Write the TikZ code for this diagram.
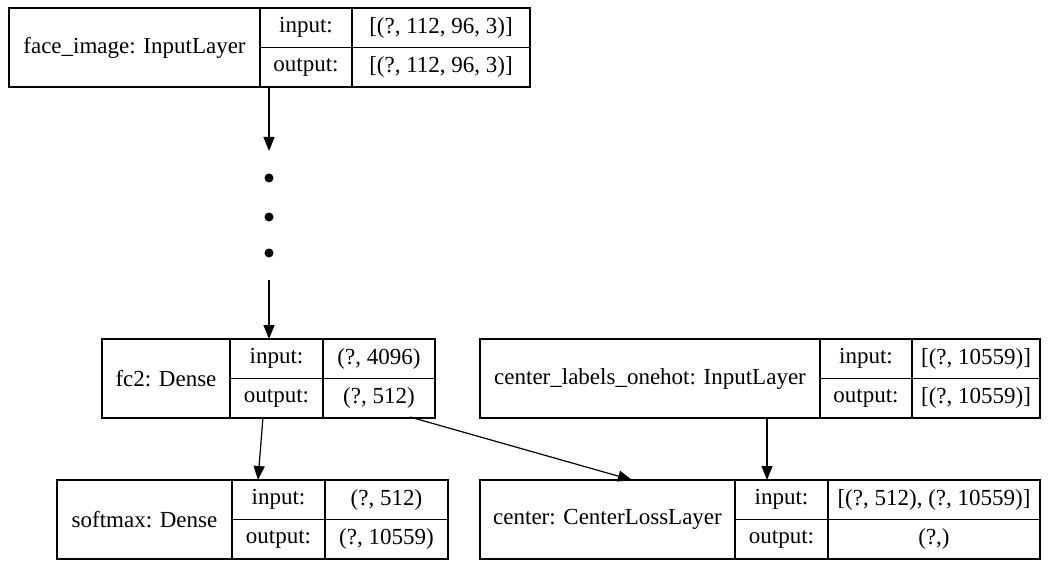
\documentclass[tikz,border=0pt]{standalone}
\usepackage{fontspec}
\setmainfont{Liberation Serif}
\usetikzlibrary{arrows.meta}

% One Keras layer record: outer frame, the name cell, and the input/output rows.
% #1 id, #2 left, #3 first divider, #4 second divider, #5 right, #6 top,
% #7 layer title, #8 input shape, #9 output shape
\newcommand\layerrecord[9]{%
  \node[recframe, anchor=north west,
        minimum width={(#5-#2)*1pt}, minimum height=79pt] (#1) at (#2,#6) {};
  \draw[cellrule] (#3,#6) -- (#3,#6+79);
  \draw[cellrule] (#4,#6) -- (#4,#6+79);
  \draw[cellrule] (#3,#6+39.5) -- (#5,#6+39.5);
  \node[celltext] (#1-title) at ({(#2+#3)/2},{#6+39.5}) {#7};
  \node[celltext] (#1-inlab) at ({(#3+#4)/2},{#6+19.75}) {input:};
  \node[celltext] (#1-outlab) at ({(#3+#4)/2},{#6+59.25}) {output:};
  \node[celltext] (#1-inval) at ({(#4+#5)/2},{#6+19.75}) {#8};
  \node[celltext] (#1-outval) at ({(#4+#5)/2},{#6+59.25}) {#9};
}

\begin{document}
\begin{tikzpicture}[x=1pt,y=-1pt,
  recframe/.style={draw, line width=1.7pt, inner sep=0pt, outer sep=0pt},
  cellrule/.style={line width=1.2pt},
  celltext/.style={inner sep=0pt, font=\fontsize{23}{27}\selectfont},
  flow/.style={line width=1.2pt, -{Triangle[length=14pt,width=11pt]}},
  ellipsisdot/.style={circle, fill, inner sep=0pt, minimum size=9pt}]
\useasboundingbox (0,0) rectangle (1048,561);
\fill[white] (0,0) rectangle (1048,561);

\layerrecord{face}{9}{260}{352}{530}{8}{face\_image: InputLayer}{[(?, 112, 96, 3)]}{[(?, 112, 96, 3)]}
\layerrecord{fctwo}{102}{230}{323}{435}{339}{fc2: Dense}{(?, 4096)}{(?, 512)}
\layerrecord{onehot}{480}{820}{912}{1040}{339}{center\_labels\_onehot: InputLayer}{[(?, 10559)]}{[(?, 10559)]}
\layerrecord{softmax}{57}{232}{325}{448}{480}{softmax: Dense}{(?, 512)}{(?, 10559)}
\layerrecord{center}{480}{735}{828}{1040}{480}{center: CenterLossLayer}{[(?, 512), (?, 10559)]}{(?,)}

% elided layers between the input and fc2
\node[ellipsisdot] (dotA) at (269,178) {};
\node[ellipsisdot] (dotB) at (269,217) {};
\node[ellipsisdot] (dotC) at (269,253) {};

% connector end points on the record edges
\coordinate (faceOut) at (269,87);
\coordinate (gapTop) at (269,151);
\coordinate (gapBottom) at (269,280);
\coordinate (fctwoIn) at (269,339);
\coordinate (fctwoOutA) at (263,417);
\coordinate (fctwoOutB) at (410,417);
\coordinate (softmaxIn) at (258,480);
\coordinate (centerInA) at (632,480);
\coordinate (onehotOut) at (767,417);
\coordinate (centerInB) at (767,480);

\draw[flow] (faceOut) -- (gapTop);
\draw[flow] (gapBottom) -- (fctwoIn);
\draw[flow] (fctwoOutA) -- (softmaxIn);
\draw[flow] (fctwoOutB) -- (centerInA);
\draw[flow] (onehotOut) -- (centerInB);
\end{tikzpicture}
\end{document}
